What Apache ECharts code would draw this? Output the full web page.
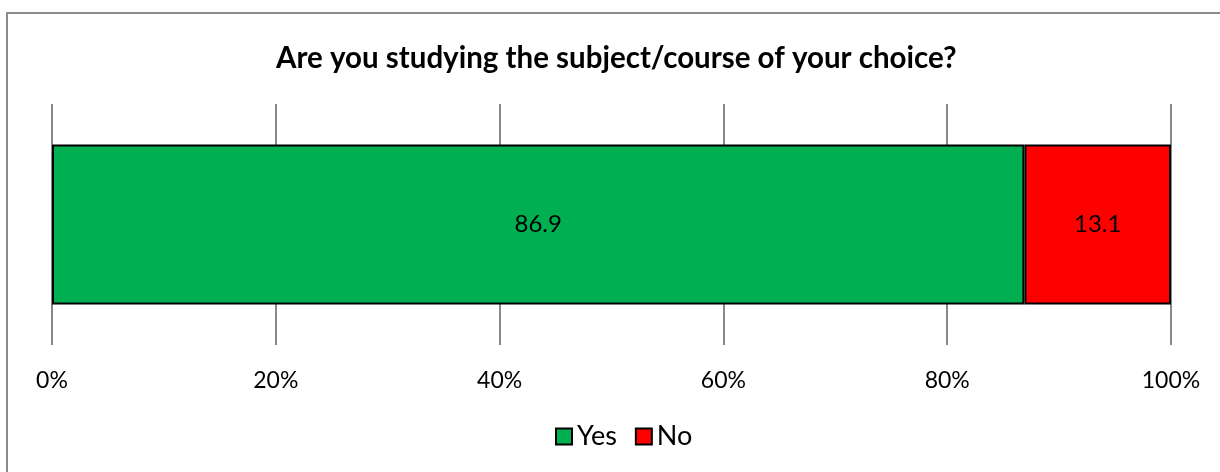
<!DOCTYPE html>
<html>
<head>
<meta charset="utf-8">
<script src="https://cdn.jsdelivr.net/npm/echarts@6/dist/echarts.min.js"></script>
<style>html,body{margin:0;padding:0;background:#fff;}#c{width:1220px;height:472px;}</style>
</head>
<body>
<div id="c"></div>
<script>
const titleText = 'Are you studying the subject/course of your choice?';
const categories = ['Response'];
const yesValues = [86.9];
const noValues = [13.1];
const tickValues = [0, 20, 40, 60, 80, 100];

const chart = echarts.init(document.getElementById('c'), null, {renderer: 'canvas'});
const font = 'Lato, "Open Sans", sans-serif';
chart.setOption({
  animation: false,
  backgroundColor: '#fff',
  graphic: [{
    type: 'rect', shape: {x: 7, y: 13, width: 1300, height: 600},
    style: {fill: 'none', stroke: '#8c8c8c', lineWidth: 2}, silent: true, z: -1
  }],
  title: {
    text: titleText, left: 271, top: 38,
    textStyle: {fontFamily: font, fontWeight: 'bold', fontSize: 29.5, color: '#000'}
  },
  legend: {
    bottom: 17, left: 550, icon: 'rect', itemWidth: 16, itemHeight: 16, itemGap: 18,
    textStyle: {fontFamily: font, fontSize: 27, color: '#000'},
    data: ['Yes', 'No']
  },
  grid: {left: 52, right: 49, top: 104, bottom: 127},
  xAxis: {
    type: 'value', min: 0, max: 100, interval: 20,
    axisLine: {show: false}, axisTick: {show: false},
    axisLabel: {formatter: '{value}%', margin: 24, fontFamily: font, fontSize: 23, color: '#000'},
    splitLine: {lineStyle: {color: '#888', width: 2}}
  },
  yAxis: {
    type: 'category', data: categories,
    axisLine: {show: false}, axisTick: {show: false}, axisLabel: {show: false}
  },
  series: [
    {name: 'Yes', type: 'bar', stack: 's', data: yesValues, barWidth: 160,
     itemStyle: {color: '#00B050', borderColor: '#000', borderWidth: 2},
     label: {show: true, position: 'inside', fontFamily: font, fontSize: 24, color: '#000'}},
    {name: 'No', type: 'bar', stack: 's', data: noValues, barWidth: 160,
     itemStyle: {color: '#FF0000', borderColor: '#000', borderWidth: 2},
     label: {show: true, position: 'inside', fontFamily: font, fontSize: 24, color: '#000'}}
  ]
});
</script>
</body>
</html>
